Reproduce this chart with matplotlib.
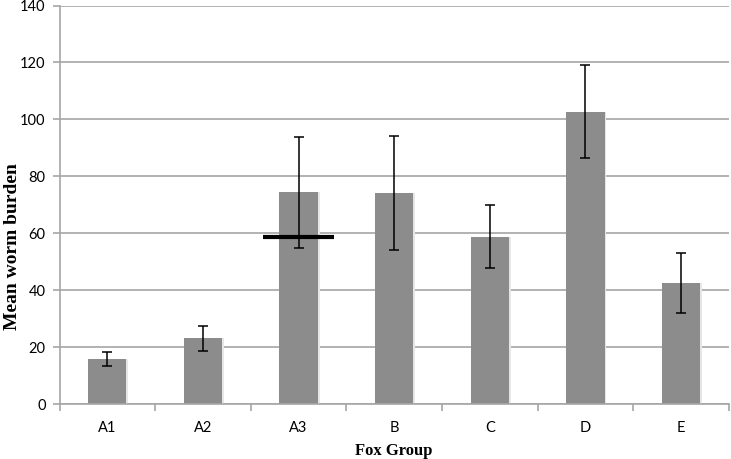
import numpy as np
import matplotlib
matplotlib.use("Agg")
import matplotlib.pyplot as plt

# data
groups = ["A1", "A2", "A3", "B", "C", "D", "E"]
means = [15.8, 23.1, 74.4, 74.1, 58.8, 102.7, 42.6]
errs = [2.5, 4.4, 19.5, 20.0, 11.1, 16.3, 10.6]
a3_mark = 58.6   # black reference line over A3

fig = plt.figure(figsize=(7.31, 4.59), dpi=100)
ax = fig.add_axes([0.0814, 0.1198, 0.9156, 0.8682])

x = np.arange(len(groups))
grid_col = "#a6a6a6"

ax.set_axisbelow(True)
ax.yaxis.grid(True, color=grid_col, linewidth=1.2)

# faint shadow then bar
ax.bar(x + 0.012, means, width=0.415, color="#e6e6e6", zorder=1)
ax.bar(x, means, width=0.4, color="#8c8c8c", zorder=2)
ax.errorbar(x, means, yerr=errs, fmt="none", ecolor="black",
            elinewidth=1.1, capsize=3.5, capthick=1.1, zorder=3)

ax.plot([2 - 0.37, 2 + 0.37], [a3_mark, a3_mark], color="black",
        linewidth=3, solid_capstyle="butt", zorder=4)

ax.set_xlim(-0.5, len(groups) - 0.5)
ax.set_ylim(0, 140)
ax.set_yticks(np.arange(0, 141, 20))
ax.set_xticks(x)
ax.set_xticklabels(groups, fontfamily="Lato", fontsize=10.5)
ax.set_xticks(np.arange(-0.5, len(groups) + 0.5, 1), minor=True)
ax.tick_params(axis="x", which="major", length=0, pad=12)
ax.tick_params(axis="x", which="minor", length=5, color=grid_col, width=1.2)
ax.tick_params(axis="y", length=5, color=grid_col, width=1.2, pad=5)
for lab in ax.get_yticklabels():
    lab.set_fontfamily("Lato")
    lab.set_fontsize(10.5)

for s in ["top", "right"]:
    ax.spines[s].set_visible(False)
for s in ["left", "bottom"]:
    ax.spines[s].set_color(grid_col)
    ax.spines[s].set_linewidth(1.2)

ax.set_xlabel("Fox Group", fontfamily="Liberation Serif", fontweight="bold",
              fontsize=12, labelpad=6)
ax.set_ylabel("Mean worm burden", fontfamily="Liberation Serif",
              fontweight="bold", fontsize=14)
ax.yaxis.set_label_coords(-0.058, 0.395)

fig.savefig("out.png", dpi=100)
